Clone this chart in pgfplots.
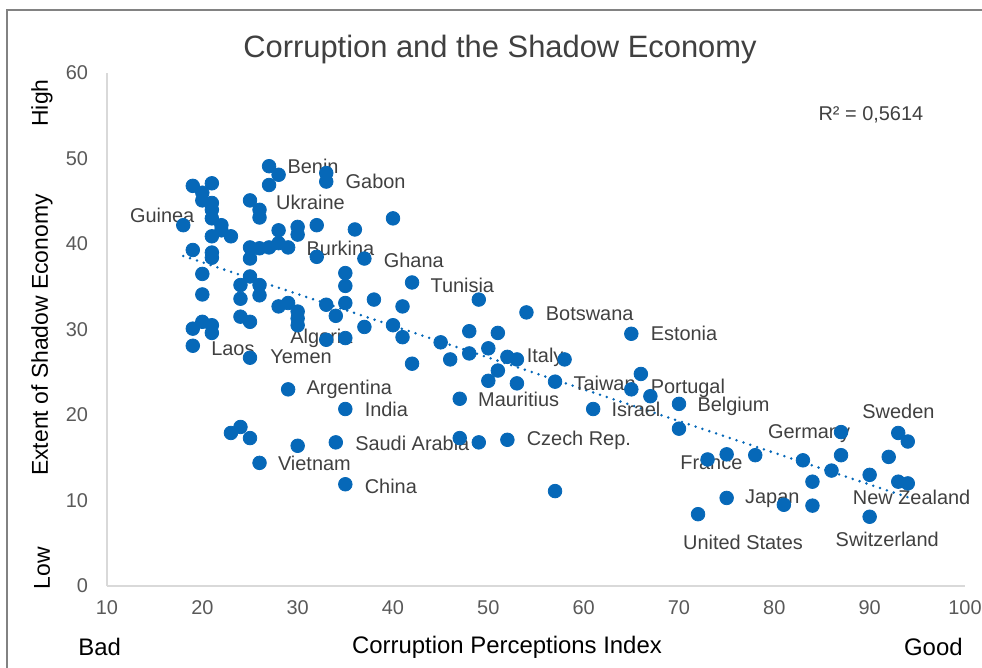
\documentclass[border=0pt]{standalone}
\usepackage{pgfplots}
\usepackage{pgfplotstable}
\pgfplotsset{compat=1.18}
\usepackage{fontspec}
\setmainfont{Liberation Sans}

\definecolor{dotblue}{RGB}{6,104,184}
\definecolor{txt}{RGB}{64,64,64}
\definecolor{ticktxt}{RGB}{89,89,89}
\definecolor{axgray}{RGB}{217,217,217}
\definecolor{framegray}{RGB}{130,130,130}

% CPI vs shadow economy (% of GDP)
\pgfplotstableread{
x y
27 49.1
28 48.1
27 46.9
33 48.3
33 47.3
19 46.8
21 47.1
20 46.0
20 45.1
21 44.8
21 44.0
21 43.0
25 45.1
26 44.0
26 43.1
18 42.2
22 42.2
22 41.6
21 40.9
23 40.9
28 41.6
30 42.0
30 41.1
32 42.2
36 41.7
40 43.0
25 39.6
26 39.5
27 39.6
28 40.1
29 39.6
25 38.3
32 38.5
37 38.3
19 39.3
21 39.0
21 38.4
20 36.5
20 34.1
24 35.2
25 36.2
26 35.2
26 34.0
24 33.6
35 36.6
35 35.1
35 33.1
38 33.5
28 32.7
29 33.1
30 32.1
30 31.3
30 30.5
33 32.9
34 31.6
37 30.3
40 30.5
24 31.5
25 30.9
19 30.1
20 30.9
21 30.5
21 29.6
19 28.1
25 26.7
33 28.8
35 29.0
41 29.1
29 23.0
35 20.7
23 17.9
24 18.6
25 17.3
30 16.4
34 16.8
26 14.4
35 11.9
42 35.5
41 32.7
49 33.5
54 32.0
48 29.8
51 29.6
45 28.5
50 27.8
48 27.2
46 26.5
52 26.8
53 26.5
58 26.5
42 26.0
51 25.2
50 24.0
53 23.7
57 23.9
47 21.9
61 20.7
65 23.0
65 29.5
47 17.3
49 16.8
52 17.1
57 11.1
66 24.8
67 22.2
70 21.3
70 18.4
73 14.8
75 15.4
78 15.3
83 14.7
87 18.0
87 15.3
86 13.5
84 12.2
90 13.0
92 15.1
93 17.9
94 16.9
93 12.2
94 12.0
75 10.3
81 9.5
84 9.4
72 8.4
90 8.1
}\shadow
% sorted copy so the trend line runs once from left to right
\pgfplotstablesort[sort key=x]{\shadowsorted}{\shadow}

\begin{document}
\begin{tikzpicture}[x=1bp,y=1bp]
\begin{axis}[
    at={(0,0)}, anchor=south west,
    scale only axis,
    width=429bp, height=256.5bp,
    xmin=10, xmax=100,
    ymin=0, ymax=60,
    xtick={10,20,...,100},
    ytick={0,10,...,60},
    axis lines=left,
    axis line style={axgray, line width=0.8bp, -},
    major tick length=0pt,
    tick label style={font=\fontsize{10}{12}\selectfont, text=ticktxt},
    /pgf/number format/assume math mode=true,
    xticklabel style={yshift=-4bp},
    yticklabel style={xshift=-6bp},
    clip=false,
]
\addplot[only marks, mark=*, mark size=3.4bp,
    mark options={fill=dotblue, draw=dotblue}]
    table[x=x, y=y] {\shadow};
\addplot[dotblue, line width=1.4bp, line cap=round,
    dash pattern=on 0pt off 3.6bp, mark=none]
    table[x=x, y={create col/linear regression={y=y}}] {\shadowsorted};

\begin{scope}[every node/.style={font=\fontsize{10}{12}\selectfont, text=txt, inner sep=0pt}]
\node[anchor=west] at (axis cs:28.9,49.1) {Benin};
\node[anchor=west] at (axis cs:35.0,47.3) {Gabon};
\node[anchor=west] at (axis cs:27.7,44.9) {Ukraine};
\node[anchor=east] at (axis cs:19.2,43.4) {Guinea};
\node[anchor=west] at (axis cs:30.9,39.5) {Burkina};
\node[anchor=west] at (axis cs:39.0,38.1) {Ghana};
\node[anchor=west] at (axis cs:43.9,35.2) {Tunisia};
\node[anchor=west] at (axis cs:56.0,31.8) {Botswana};
\node[anchor=west] at (axis cs:67.0,29.5) {Estonia};
\node[anchor=west] at (axis cs:54.0,26.8) {Italy};
\node[anchor=west] at (axis cs:58.9,23.7) {Taiwan};
\node[anchor=west] at (axis cs:67.0,23.1) {Portugal};
\node[anchor=west] at (axis cs:62.9,20.7) {Israel};
\node[anchor=west] at (axis cs:71.9,21.0) {Belgium};
\node[anchor=west] at (axis cs:48.9,21.8) {Mauritius};
\node[anchor=west] at (axis cs:54.0,17.0) {Czech Rep.};
\node[anchor=west] at (axis cs:30.9,23.0) {Argentina};
\node[anchor=west] at (axis cs:37.0,20.7) {India};
\node[anchor=west] at (axis cs:36.0,16.7) {Saudi Arabia};
\node[anchor=west] at (axis cs:27.9,14.3) {Vietnam};
\node[anchor=west] at (axis cs:37.0,11.7) {China};
\node[anchor=west] at (axis cs:20.9,27.7) {Laos};
\node[anchor=west] at (axis cs:27.1,26.8) {Yemen};
\node[anchor=west] at (axis cs:29.2,29.0) {Algeria};
\node[anchor=west] at (axis cs:79.3,17.8) {Germany};
\node[anchor=west] at (axis cs:70.1,14.4) {France};
\node[anchor=west] at (axis cs:76.9,10.2) {Japan};
\node[anchor=west] at (axis cs:89.2,20.4) {Sweden};
\node[anchor=west] at (axis cs:88.2,10.4) {New Zealand};
\node[anchor=west] at (axis cs:70.4,5.1) {United States};
\node[anchor=west] at (axis cs:86.4,5.5) {Switzerland};
\node[anchor=west] at (axis cs:84.6,55.1) {R² = 0,5614};
\end{scope}
\end{axis}

\node[font=\fontsize{15.5}{18}\selectfont, text=txt] at (196.5bp,268bp) {Corruption and the Shadow Economy};
\node[font=\fontsize{12}{14}\selectfont, text=black] at (200bp,-30.5bp) {Corruption Perceptions Index};
\node[font=\fontsize{12}{14}\selectfont, text=black, anchor=west, inner sep=0pt] at (-14.5bp,-30.5bp) {Bad};
\node[font=\fontsize{12}{14}\selectfont, text=black, anchor=east, inner sep=0pt] at (428bp,-30.5bp) {Good};
\node[font=\fontsize{11.5}{14}\selectfont, text=black, rotate=90] at (-32.5bp,125.5bp) {Extent of Shadow Economy};
\node[font=\fontsize{11.5}{14}\selectfont, text=black, rotate=90] at (-32.5bp,241.5bp) {High};
\node[font=\fontsize{11.5}{14}\selectfont, text=black, rotate=90] at (-32.5bp,9bp) {Low};

\draw[framegray, line width=1bp] (-50bp,-80bp) -- (-50bp,288bp) -- (480bp,288bp);

\pgfresetboundingbox
\useasboundingbox (-53.5bp,-41bp) rectangle (437.5bp,293bp);
\end{tikzpicture}
\end{document}
